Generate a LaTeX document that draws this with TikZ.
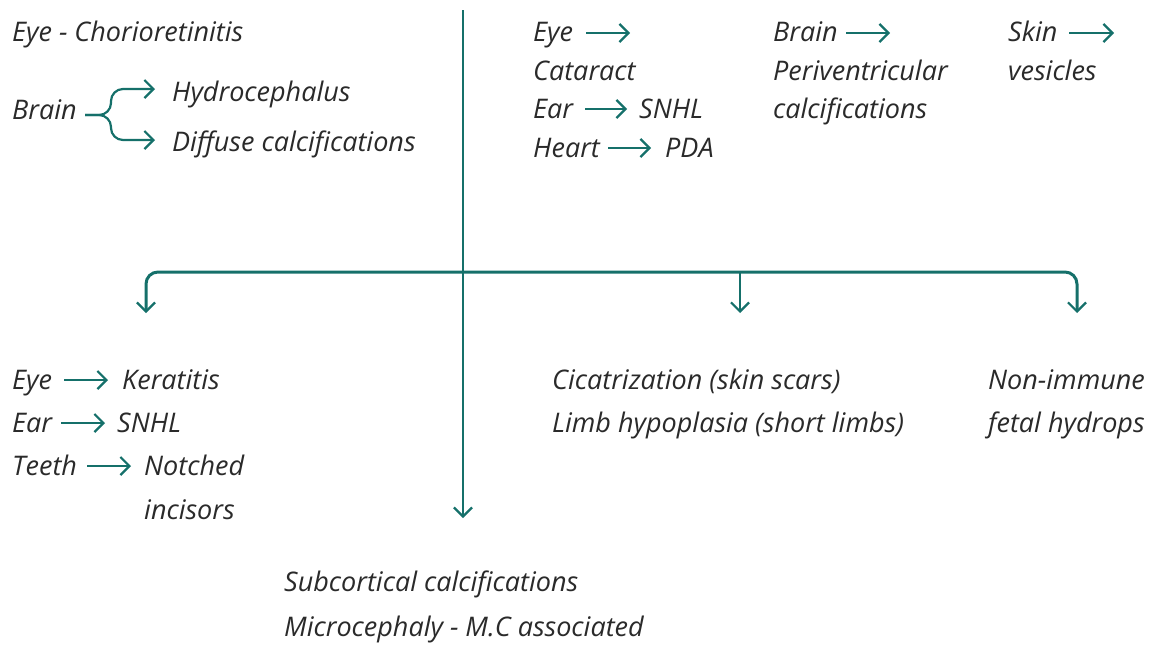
\documentclass[tikz,border=0pt]{standalone}
\usepackage{fontspec}
\setmainfont{Open Sans}
\usetikzlibrary{arrows.meta}
\definecolor{tealc}{HTML}{15706A}
\definecolor{ink}{HTML}{2A2A2A}
\begin{document}
\begin{tikzpicture}[x=1pt,y=-1pt,
  txt/.style={anchor=base west, inner sep=0pt, font=\fontsize{27}{32}\selectfont\itshape, text=ink},
  ln/.style={draw=tealc, line width=2.2pt},
  tip/.tip={Straight Barb[length=9pt,width=18pt,line width=2.2pt]},
  arr/.style={ln, -tip},
  dbl/.style={ln, tip-tip}]
\useasboundingbox (0,0) rectangle (1149,646);

% top left
\node[txt] (eyeC) at (12,41) {Eye - Chorioretinitis};
\node[txt] (brainL) at (12,119) {Brain};
\node[txt] (hydro) at (172,101) {Hydrocephalus};
\node[txt] (diff) at (172,151) {Diffuse calcifications};
\coordinate (bs) at (85,115);
\coordinate (bj) at (111,115);
\coordinate (bh) at (155,89);
\coordinate (bd) at (155,140);
\draw[arr, rounded corners=12pt] (bs) -- (bj) |- (bh);
\draw[arr, rounded corners=12pt] (bs) -- (bj) |- (bd);

% top right
\node[txt] (eyeT) at (533,41) {Eye};
\coordinate (eyeTa) at (586,33);
\coordinate (eyeTb) at (630,33);
\draw[arr] (eyeTa) -- (eyeTb);
\node[txt] (cat) at (533,80) {Cataract};
\node[txt] (earT) at (533,118) {Ear};
\node[txt] (snhlT) at (639,118) {SNHL};
\coordinate (earTa) at (585,109);
\coordinate (earTb) at (627,109);
\draw[arr] (earTa) -- (earTb);
\node[txt] (heart) at (533,157) {Heart};
\node[txt] (pda) at (665,157) {PDA};
\coordinate (heartA) at (608,148);
\coordinate (heartB) at (651,148);
\draw[arr] (heartA) -- (heartB);

\node[txt] (brainT) at (773,41) {Brain};
\coordinate (brainTa) at (846,33);
\coordinate (brainTb) at (890,33);
\draw[arr] (brainTa) -- (brainTb);
\node[txt] (peri) at (773,80) {Periventricular};
\node[txt] (calc) at (773,118) {calcifications};

\node[txt] (skin) at (1008,41) {Skin};
\coordinate (skinA) at (1069,33);
\coordinate (skinB) at (1114,33);
\draw[arr] (skinA) -- (skinB);
\node[txt] (ves) at (1008,80) {vesicles};

% axes
\coordinate (vtop) at (463,10);
\coordinate (vbot) at (463,518);
\draw[arr] (vtop) -- (vbot);
\coordinate (hj) at (463,272);
\coordinate (dl) at (146,313);
\coordinate (dr) at (1077,313);
\coordinate (mj) at (740,272);
\coordinate (dm) at (740,313);
\draw[dbl, line width=3pt, rounded corners=12pt] (dl) |- (hj) -| (dr);
\draw[arr] (mj) -- (dm);

% bottom left
\node[txt] (eyeB) at (12,389) {Eye};
\node[txt] (ker) at (122,389) {Keratitis};
\coordinate (eyeBa) at (64,380);
\coordinate (eyeBb) at (108,380);
\draw[arr] (eyeBa) -- (eyeBb);
\node[txt] (earB) at (12,432) {Ear};
\node[txt] (snhlB) at (117,432) {SNHL};
\coordinate (earBa) at (61,423);
\coordinate (earBb) at (105,423);
\draw[arr] (earBa) -- (earBb);
\node[txt] (teeth) at (12,475) {Teeth};
\node[txt] (notch) at (144,475) {Notched};
\node[txt] (inc) at (144,519) {incisors};
\coordinate (teethA) at (87,466);
\coordinate (teethB) at (131,466);
\draw[arr] (teethA) -- (teethB);

% bottom middle / right
\node[txt] (cic) at (552,389) {Cicatrization (skin scars)};
\node[txt] (limb) at (552,432) {Limb hypoplasia (short limbs)};
\node[txt] (nonim) at (988,389) {Non-immune};
\node[txt] (fetal) at (988,432) {fetal hydrops};

% bottom
\node[txt] (sub) at (284,591) {Subcortical calcifications};
\node[txt] (micro) at (284,636) {Microcephaly - M.C associated};
\end{tikzpicture}
\end{document}
